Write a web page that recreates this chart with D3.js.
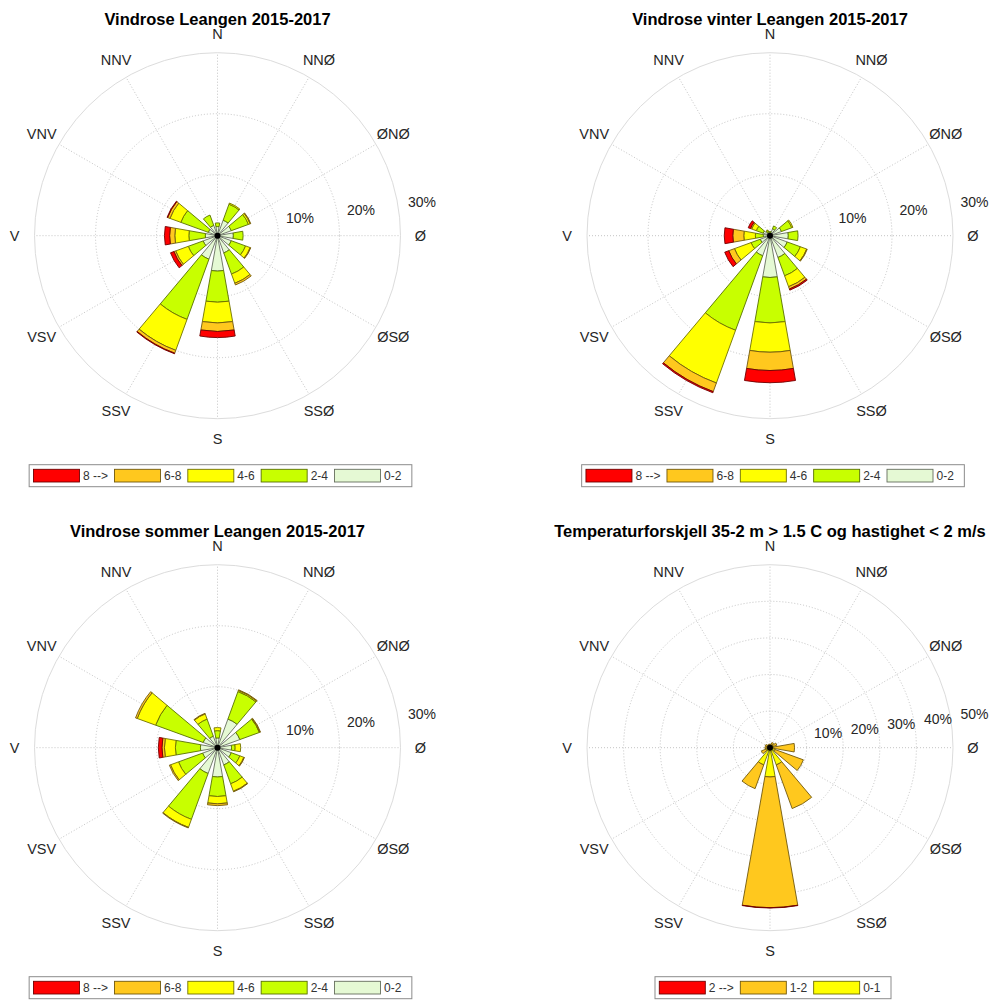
<!DOCTYPE html>
<html>
<head>
<meta charset="utf-8">
<script src="https://cdn.jsdelivr.net/npm/d3@7"></script>
<style>
  body { margin: 0; background: #fff; }
  text { font-family: "Liberation Sans", Arial, Helvetica, sans-serif; }
</style>
</head>
<body>
<svg id="chart" width="993" height="1001"></svg>
<script>
// Compass sectors (Norwegian labels), clockwise from north
const directions = ["N", "NNØ", "ØNØ", "Ø", "ØSØ", "SSØ", "S", "SSV", "VSV", "V", "VNV", "NNV"];
const directionAngles = [0, 30, 60, 90, 120, 150, 180, 210, 240, 270, 300, 330];

// Wind speed classes (m/s), innermost first
const speedBins = ["0-2", "2-4", "4-6", "6-8", "8 -->"];
const speedColors = ["#e5f9d4", "#c8ff00", "#ffff00", "#ffc81e", "#ff0000"];

// Whole year 2015-2017, % of time per sector and speed class
const allSpeed0to2 = [1.5, 2.7, 2.4, 2.6, 2.4, 3.0, 5.8, 4.1, 2.5, 2.0, 1.6, 1.8];
const allSpeed2to4 = [0.6, 2.8, 3.0, 1.6, 2.5, 3.7, 5.1, 10.5, 2.6, 2.7, 4.8, 1.8];
const allSpeed4to6 = [0.0, 0.2, 0.3, 0.0, 0.8, 1.6, 3.4, 5.4, 2.2, 2.3, 1.9, 0.0];
const allSpeed6to8 = [0.0, 0.0, 0.1, 0.0, 0.1, 0.3, 1.4, 0.5, 0.3, 0.85, 0.4, 0.0];
const allSpeed8up  = [0.0, 0.0, 0.0, 0.0, 0.0, 0.0, 1.0, 0.1, 0.6, 0.85, 0.1, 0.0];

// Winter
const winterSpeed0to2 = [0.5, 1.2, 2.0, 3.0, 3.0, 3.8, 6.85, 3.5, 1.7, 1.1, 1.2, 0.6];
const winterSpeed2to4 = [0.2, 0.5, 1.8, 1.6, 2.3, 3.2, 7.45, 13.0, 1.6, 1.3, 1.2, 0.3];
const winterSpeed4to6 = [0.0, 0.0, 0.2, 0.0, 1.1, 1.9, 4.8, 9.2, 2.9, 1.9, 0.8, 0.1];
const winterSpeed6to8 = [0.0, 0.0, 0.0, 0.0, 0.1, 0.4, 3.0, 1.5, 1.0, 1.8, 0.2, 0.0];
const winterSpeed8up  = [0.0, 0.0, 0.0, 0.0, 0.0, 0.2, 2.0, 0.2, 0.7, 1.4, 0.4, 0.0];

// Summer
const summerSpeed0to2 = [1.6, 5.0, 3.9, 2.3, 2.4, 3.0, 4.8, 4.5, 2.6, 2.8, 2.5, 2.0];
const summerSpeed2to4 = [1.2, 4.8, 3.4, 0.6, 1.5, 3.3, 3.2, 8.0, 4.2, 4.1, 8.3, 3.0];
const summerSpeed4to6 = [0.5, 0.2, 0.1, 0.9, 0.7, 1.3, 1.2, 1.4, 1.4, 1.8, 3.2, 0.9];
const summerSpeed6to8 = [0.0, 0.1, 0.1, 0.0, 0.1, 0.1, 0.3, 0.1, 0.2, 0.4, 0.3, 0.1];
const summerSpeed8up  = [0.0, 0.0, 0.0, 0.0, 0.0, 0.0, 0.0, 0.0, 0.0, 0.6, 0.0, 0.0];

// Stable conditions: temperature difference 35-2 m > 1.5 C and speed < 2 m/s
const calmBins = ["0-1", "1-2", "2 -->"];
const calmColors = ["#ffff00", "#ffc81e", "#ff0000"];
const calmSpeed0to1 = [0.6, 0.8, 1.0, 1.0, 1.5, 5.0, 8.0, 5.0, 1.2, 0.8, 0.7, 0.5];
const calmSpeed1to2 = [0.4, 0.7, 1.0, 5.7, 8.2, 12.7, 35.7, 6.9, 1.3, 0.6, 0.7, 0.5];
const calmSpeed2up  = [0.0, 0.0, 0.0, 0.0, 0.0, 0.0, 0.1, 0.0, 0.0, 0.0, 0.0, 0.0];

const titles = [
  "Vindrose Leangen 2015-2017",
  "Vindrose vinter Leangen 2015-2017",
  "Vindrose sommer Leangen 2015-2017",
  "Temperaturforskjell 35-2 m > 1.5 C og hastighet < 2 m/s"
];
const ringTicksStd = [10, 20, 30];
const ringTicksCalm = [10, 20, 30, 40, 50];

const panels = [
  { title: titles[0], cx: 217.5, cy: 235.7, ticks: ringTicksStd, bins: speedBins, colors: speedColors,
    series: [allSpeed0to2, allSpeed2to4, allSpeed4to6, allSpeed6to8, allSpeed8up] },
  { title: titles[1], cx: 770, cy: 235.7, ticks: ringTicksStd, bins: speedBins, colors: speedColors,
    series: [winterSpeed0to2, winterSpeed2to4, winterSpeed4to6, winterSpeed6to8, winterSpeed8up] },
  { title: titles[2], cx: 217.5, cy: 747.7, ticks: ringTicksStd, bins: speedBins, colors: speedColors,
    series: [summerSpeed0to2, summerSpeed2to4, summerSpeed4to6, summerSpeed6to8, summerSpeed8up] },
  { title: titles[3], cx: 770, cy: 747.7, ticks: ringTicksCalm, bins: calmBins, colors: calmColors,
    series: [calmSpeed0to1, calmSpeed1to2, calmSpeed2up] }
];

const R = 183;              // outer ring radius
const halfWidth = 10 * Math.PI / 180; // half angular width of a bar
const rad = d => d * Math.PI / 180;
const textColor = "#262626";
const svg = d3.select("#chart");

panels.forEach(p => {
  const g = svg.append("g").attr("transform", `translate(${p.cx},${p.cy})`);
  const maxPct = d3.max(p.ticks);
  const r = d3.scaleLinear().domain([0, maxPct]).range([0, R]);

  // spokes
  g.selectAll("line.spoke").data(directionAngles).join("line")
    .attr("class", "spoke")
    .attr("x1", 0).attr("y1", 0)
    .attr("x2", a => R * Math.sin(rad(a)))
    .attr("y2", a => -R * Math.cos(rad(a)))
    .attr("stroke", "#c4c4c4").attr("stroke-width", 1)
    .attr("stroke-dasharray", "1,2");

  // rings
  g.selectAll("circle.ring").data(p.ticks).join("circle")
    .attr("class", "ring")
    .attr("r", d => r(d))
    .attr("fill", "none")
    .attr("stroke", d => d === maxPct ? "#dcdcdc" : "#c4c4c4")
    .attr("stroke-width", 1)
    .attr("stroke-dasharray", d => d === maxPct ? null : "1,2");

  // ring labels
  g.selectAll("text.ringlab").data(p.ticks).join("text")
    .attr("class", "ringlab")
    .attr("x", d => r(d) + 21.5)
    .attr("y", d => -9.5 - 0.13 * r(d))
    .attr("text-anchor", "middle")
    .attr("dominant-baseline", "central")
    .attr("font-size", 14)
    .attr("fill", textColor)
    .text(d => d + "%");

  // direction labels
  g.selectAll("text.dirlab").data(directions).join("text")
    .attr("class", "dirlab")
    .attr("x", (d, i) => (R + 20) * Math.sin(rad(directionAngles[i])))
    .attr("y", (d, i) => -(R + 20) * Math.cos(rad(directionAngles[i])) + (directionAngles[i] === 0 ? 1 : 0))
    .attr("text-anchor", "middle")
    .attr("dominant-baseline", "central")
    .attr("font-size", 14.5)
    .attr("fill", textColor)
    .text(d => d);

  // stacked bars
  const rows = directions.map((d, i) => {
    const row = { dir: d, angle: directionAngles[i] };
    p.bins.forEach((b, k) => { row[b] = p.series[k][i]; });
    return row;
  });
  const stacked = d3.stack().keys(p.bins)(rows);
  const arc = d3.arc();
  stacked.forEach((layer, k) => {
    const fill = p.colors[k];
    const edge = d3.color(fill).darker(2.3).formatHex();
    g.append("g").selectAll("path")
      .data(layer.filter(s => s[1] - s[0] > 0))
      .join("path")
      .attr("d", s => arc({
        innerRadius: r(s[0]),
        outerRadius: r(s[1]),
        startAngle: rad(s.data.angle) - halfWidth,
        endAngle: rad(s.data.angle) + halfWidth
      }))
      .attr("fill", fill)
      .attr("stroke", edge)
      .attr("stroke-width", 0.9)
      .attr("stroke-linejoin", "round");
  });
  g.append("circle").attr("r", 3).attr("fill", "#000");

  // title
  svg.append("text")
    .attr("x", p.cx).attr("y", p.cy - 210.5)
    .attr("text-anchor", "middle")
    .attr("font-size", 16.5).attr("font-weight", "bold")
    .attr("fill", "#000")
    .text(p.title);

  // legend (highest class first)
  const order = d3.range(p.bins.length).reverse();
  const lg = svg.append("g");
  const box = lg.append("rect");
  const sw = 46, sh = 12.7, padL = 4.3, padR = 10.5, txtOff = 3.5, gap = 6.5;
  let x = padL;
  order.forEach((k, j) => {
    const fill = p.colors[k];
    lg.append("rect").attr("x", x).attr("y", 4.6).attr("width", sw).attr("height", sh)
      .attr("fill", fill).attr("stroke", d3.color(fill).darker(2.3).formatHex()).attr("stroke-width", 0.9);
    const t = lg.append("text").attr("x", x + sw + txtOff).attr("y", 11)
      .attr("dominant-baseline", "central")
      .attr("font-size", 12).attr("fill", "#333").text(p.bins[k]);
    x += sw + txtOff + t.node().getComputedTextLength() + (j < order.length - 1 ? gap : 0);
  });
  const boxW = x + padR;
  box.attr("x", 0).attr("y", 0).attr("width", boxW).attr("height", 22)
    .attr("fill", "#fff").attr("stroke", "#8c8c8c").attr("stroke-width", 1);
  lg.attr("transform", `translate(${p.cx + 3 - boxW / 2},${p.cy + 229})`);
});
</script>
</body>
</html>
